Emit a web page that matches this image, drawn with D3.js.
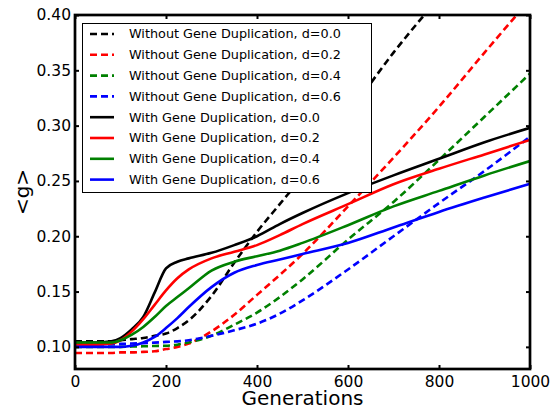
<!DOCTYPE html>
<html>
<head>
<meta charset="utf-8">
<script src="https://cdn.jsdelivr.net/npm/d3@7"></script>
<style>
  body { margin: 0; background: #fff; }
  text { font-family: "DejaVu Sans", sans-serif; }
</style>
</head>
<body>
<div id="chart"></div>
<script>
// generations
const gens = [0, 50, 80, 100, 125, 150, 175, 200, 225, 250, 300, 350, 400, 450, 500, 600, 700, 800, 900, 1000];

// without gene duplication (dashed)
const noDup00 = [0.105, 0.105, 0.105, 0.106, 0.107, 0.108, 0.110, 0.112, 0.117, 0.124, 0.146, 0.176, 0.204, 0.229, 0.254, 0.310, 0.366, 0.416, 0.466, 0.516];
const noDup02 = [0.0945, 0.0945, 0.0945, 0.095, 0.095, 0.0955, 0.096, 0.098, 0.100, 0.103, 0.114, 0.129, 0.147, 0.165, 0.184, 0.227, 0.271, 0.317, 0.366, 0.414];
const noDup04 = [0.100, 0.100, 0.100, 0.100, 0.1003, 0.1005, 0.1008, 0.101, 0.102, 0.104, 0.110, 0.120, 0.131, 0.145, 0.161, 0.197, 0.231, 0.269, 0.308, 0.347];
const noDup06 = [0.1025, 0.1025, 0.1025, 0.1027, 0.103, 0.1033, 0.1038, 0.1045, 0.105, 0.106, 0.110, 0.115, 0.121, 0.130, 0.142, 0.170, 0.200, 0.230, 0.259, 0.290];

// with gene duplication (solid)
const dup00 = [0.104, 0.104, 0.105, 0.108, 0.116, 0.127, 0.149, 0.171, 0.177, 0.180, 0.185, 0.192, 0.200, 0.211, 0.221, 0.239, 0.255, 0.270, 0.285, 0.298];
const dup02 = [0.102, 0.102, 0.103, 0.106, 0.114, 0.125, 0.138, 0.151, 0.162, 0.170, 0.180, 0.186, 0.192, 0.201, 0.211, 0.229, 0.247, 0.261, 0.274, 0.287];
const dup04 = [0.104, 0.104, 0.104, 0.106, 0.111, 0.118, 0.127, 0.137, 0.145, 0.153, 0.169, 0.177, 0.182, 0.187, 0.194, 0.210, 0.227, 0.241, 0.255, 0.268];
const dup06 = [0.100, 0.100, 0.100, 0.100, 0.101, 0.104, 0.109, 0.117, 0.126, 0.136, 0.154, 0.167, 0.174, 0.179, 0.184, 0.194, 0.208, 0.222, 0.235, 0.2475];

const labels = [
  "Without Gene Duplication, d=0.0", "Without Gene Duplication, d=0.2",
  "Without Gene Duplication, d=0.4", "Without Gene Duplication, d=0.6",
  "With Gene Duplication, d=0.0", "With Gene Duplication, d=0.2",
  "With Gene Duplication, d=0.4", "With Gene Duplication, d=0.6"
];
const colors = ["#000000", "#ff0000", "#008000", "#0000ff"];
const xTicks = [0, 200, 400, 600, 800, 1000];
const yTicks = [0.10, 0.15, 0.20, 0.25, 0.30, 0.35, 0.40];

const series = [noDup00, noDup02, noDup04, noDup06, dup00, dup02, dup04, dup06].map((vals, i) => ({
  label: labels[i],
  color: colors[i % 4],
  dashed: i < 4,
  values: vals.map((v, j) => ({ g: gens[j], v: v }))
}));

const width = 560, height = 409;
const plotL = 75, plotR = 530, plotT = 15, plotB = 369;

const svg = d3.select("#chart")
  .append("svg")
  .attr("width", width)
  .attr("height", height);

const x = d3.scaleLinear().domain([0, 1000]).range([plotL, plotR]);
const y = d3.scaleLinear().domain([0.08, 0.40]).range([plotB, plotT]);

svg.append("clipPath")
  .attr("id", "plot-clip")
  .append("rect")
  .attr("x", plotL).attr("y", plotT)
  .attr("width", plotR - plotL).attr("height", plotB - plotT);

const line = d3.line()
  .x(d => x(d.g))
  .y(d => y(d.v))
  .curve(d3.curveMonotoneX);

//draw curves
svg.append("g")
  .attr("clip-path", "url(#plot-clip)")
  .selectAll("path")
  .data(series)
  .join("path")
  .attr("d", d => line(d.values))
  .attr("fill", "none")
  .attr("stroke", d => d.color)
  .attr("stroke-width", 2.6)
  .attr("stroke-dasharray", d => d.dashed ? "7,4" : null);

//axes, ticks point inward
const fmt = d3.format(".2f");

const xAxis = svg.append("g")
  .attr("transform", `translate(0,${plotB})`)
  .call(d3.axisBottom(x).tickValues(xTicks).tickSize(-4).tickPadding(7).tickFormat(d3.format("d")));
const xTop = svg.append("g")
  .attr("transform", `translate(0,${plotT})`)
  .call(d3.axisTop(x).tickValues(xTicks).tickSize(-4).tickFormat(""));
const yAxis = svg.append("g")
  .attr("transform", `translate(${plotL},0)`)
  .call(d3.axisLeft(y).tickValues(yTicks).tickSize(-4).tickPadding(4).tickFormat(fmt));
const yRight = svg.append("g")
  .attr("transform", `translate(${plotR},0)`)
  .call(d3.axisRight(y).tickValues(yTicks).tickSize(-4).tickFormat(""));

[xAxis, xTop, yAxis, yRight].forEach(a => {
  a.select(".domain").remove();
  a.selectAll(".tick line").attr("stroke", "#000").attr("stroke-width", 2);
  a.selectAll(".tick text")
    .style("font-family", "DejaVu Sans")
    .style("font-size", "15.5px")
    .attr("fill", "#000");
});

//frame
svg.append("rect")
  .attr("x", plotL).attr("y", plotT)
  .attr("width", plotR - plotL).attr("height", plotB - plotT)
  .attr("fill", "none")
  .attr("stroke", "#000")
  .attr("stroke-width", 2.7);

//axis labels
svg.append("text")
  .attr("x", (plotL + plotR) / 2)
  .attr("y", 405)
  .attr("text-anchor", "middle")
  .style("font-size", "20px")
  .text("Generations");

svg.append("text")
  .attr("transform", `translate(29,${(plotT + plotB) / 2}) rotate(-90)`)
  .attr("text-anchor", "middle")
  .style("font-size", "20px")
  .text("<g>");

//legend
const legend = svg.append("g");
legend.append("rect")
  .attr("x", 82.5).attr("y", 23.5)
  .attr("width", 289).attr("height", 169)
  .attr("fill", "#fff")
  .attr("stroke", "#000")
  .attr("stroke-width", 1);

const entry = legend.selectAll("g.entry")
  .data(series)
  .join("g")
  .attr("class", "entry")
  .attr("transform", (d, i) => `translate(0,${34 + i * 20.8})`);

entry.append("line")
  .attr("x1", 90).attr("x2", 114)
  .attr("stroke", d => d.color)
  .attr("stroke-width", 2.6)
  .attr("stroke-dasharray", d => d.dashed ? "7,4" : null);

entry.append("text")
  .attr("x", 129)
  .attr("dy", "0.35em")
  .style("font-size", "12.8px")
  .text(d => d.label);
</script>
</body>
</html>
